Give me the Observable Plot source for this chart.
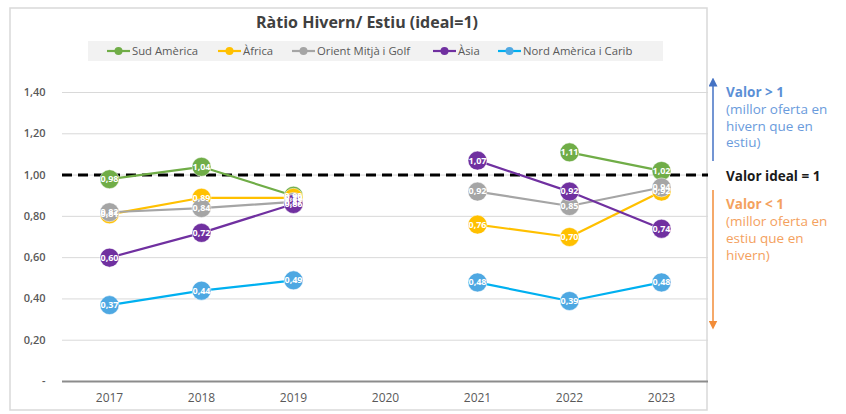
<!DOCTYPE html>
<html>
<head>
<meta charset="utf-8">
<script src="https://cdn.jsdelivr.net/npm/d3@7"></script>
<script src="https://cdn.jsdelivr.net/npm/@observablehq/plot@0.6"></script>
<style>
  html, body { margin: 0; padding: 0; background: #fff; }
  #chart svg { display: block; }
</style>
</head>
<body>
<div id="chart"></div>
<script>
const years = ["2017", "2018", "2019", "2020", "2021", "2022", "2023"];
const seriesNames = ["Sud Amèrica", "Àfrica", "Orient Mitjà i Golf", "Àsia", "Nord Amèrica i Carib"];
const sudAmerica   = [0.98, 1.04, 0.90, null, null, 1.11, 1.02];
const africa       = [0.81, 0.89, 0.89, null, 0.76, 0.70, 0.92];
const orientMitja  = [0.82, 0.84, 0.87, null, 0.92, 0.85, 0.94];
const asia         = [0.60, 0.72, 0.86, null, 1.07, 0.92, 0.74];
const nordAmerica  = [0.37, 0.44, 0.49, null, 0.48, 0.39, 0.48];
const lineColors   = ["#70AD47", "#FFC000", "#A5A5A5", "#7030A0", "#00B0F0"];
const markerColors = ["#70AD47", "#FFC000", "#A5A5A5", "#7030A0", "#4EA8E2"];
const yTicks = [0, 0.2, 0.4, 0.6, 0.8, 1.0, 1.2, 1.4];
const idealValue = 1;

const allValues = [sudAmerica, africa, orientMitja, asia, nordAmerica];
const table = seriesNames.map((name, i) =>
  years.map((year, j) => ({ series: name, idx: i, year, value: allValues[i][j] }))
);
const fmt = v => v === 0 ? "-" : v.toFixed(2).replace(".", ",");

const marks = [
  Plot.ruleY(yTicks.filter(t => t > 0), { stroke: "#D9D9D9", strokeWidth: 1 }),
  Plot.ruleY([0], { stroke: "#8C8C8C", strokeWidth: 1.8 }),
  Plot.axisY({ ticks: yTicks, tickFormat: fmt, tickSize: 0, tickPadding: 17, fill: "#595959", fontWeight: 600, fontSize: 11, label: null }),
  Plot.axisX({ tickSize: 0, tickPadding: 12, fill: "#595959", fontSize: 12, label: null }),
  Plot.ruleY([idealValue], { stroke: "#000", strokeWidth: 3, strokeDasharray: "10,6" })
];
table.forEach((rows, i) => {
  marks.push(Plot.line(rows, { x: "year", y: "value", stroke: lineColors[i], strokeWidth: 2.2 }));
  marks.push(Plot.dot(rows.filter(d => d.value != null), { x: "year", y: "value", r: 9.5, fill: markerColors[i], stroke: "#fff", strokeOpacity: 0.5, strokeWidth: 1 }));
});
table.forEach(rows => {
  marks.push(Plot.text(rows.filter(d => d.value != null), { x: "year", y: "value", text: d => fmt(d.value), fill: "#fff", fontWeight: 700, fontSize: 9 }));
});

const svg = Plot.plot({
  width: 846, height: 414,
  marginLeft: 62, marginRight: 138, marginTop: 92, marginBottom: 33,
  style: { fontFamily: "Open Sans", background: "#fff" },
  x: { type: "point", domain: years, padding: 0.5 },
  y: { domain: [0, 1.4] },
  marks
});

const s = d3.select(svg);
// frame
s.insert("rect", ":first-child").attr("x", 10).attr("y", 8).attr("width", 697).attr("height", 402)
  .attr("fill", "#fff").attr("stroke", "#D9D9D9").attr("stroke-width", 1.5);
// title
s.append("text").attr("x", 367).attr("y", 28).attr("text-anchor", "middle")
  .attr("font-family", "Open Sans").attr("font-weight", 700).attr("font-size", 16).attr("fill", "#404040")
  .text("Ràtio Hivern/ Estiu (ideal=1)");
// legend
s.append("rect").attr("x", 88).attr("y", 41).attr("width", 575).attr("height", 20).attr("fill", "#F2F2F2");
const legendX = [107, 218, 292, 433, 498];
seriesNames.forEach((name, i) => {
  const g = s.append("g");
  g.append("line").attr("x1", legendX[i]).attr("x2", legendX[i] + 23).attr("y1", 51).attr("y2", 51)
    .attr("stroke", lineColors[i]).attr("stroke-width", 2.2);
  g.append("circle").attr("cx", legendX[i] + 11.5).attr("cy", 51).attr("r", 4).attr("fill", markerColors[i]);
  g.append("text").attr("x", legendX[i] + 25).attr("y", 51).attr("dy", "0.35em").attr("text-anchor", "start")
    .attr("font-family", "Open Sans").attr("font-size", 11.3).attr("fill", "#595959").text(name);
});
// annotations
const defs = s.append("defs");
[["arrBlue", "#4472C4"], ["arrOrange", "#F28C38"]].forEach(([id, c]) => {
  defs.append("marker").attr("id", id).attr("viewBox", "0 0 10 10").attr("refX", 5).attr("refY", 5)
    .attr("markerWidth", 6).attr("markerHeight", 6).attr("orient", "auto-start-reverse")
    .append("path").attr("d", "M0,0 L10,5 L0,10 z").attr("fill", c);
});
s.append("line").attr("x1", 713).attr("x2", 713).attr("y1", 161).attr("y2", 82)
  .attr("stroke", "#4472C4").attr("stroke-width", 1.5).attr("marker-end", "url(#arrBlue)");
s.append("line").attr("x1", 713).attr("x2", 713).attr("y1", 190).attr("y2", 325)
  .attr("stroke", "#F28C38").attr("stroke-width", 1.5).attr("marker-end", "url(#arrOrange)");
function txt(y, str, color, weight) {
  s.append("text").attr("x", 726).attr("y", y).attr("dy", "0.35em").attr("text-anchor", "start")
    .attr("font-family", "Open Sans").attr("font-size", 13.5).attr("font-weight", weight)
    .attr("fill", color).text(str);
}
txt(92, "Valor > 1", "#5B8FD6", 700);
txt(109, "(millor oferta en", "#6A9BDC", 400);
txt(126, "hivern que en", "#6A9BDC", 400);
txt(142, "estiu)", "#6A9BDC", 400);
txt(176, "Valor ideal = 1", "#1a1a1a", 700);
txt(204, "Valor < 1", "#F4A15E", 700);
txt(221, "(millor oferta en", "#F4A15E", 400);
txt(238, "estiu que en", "#F4A15E", 400);
txt(255, "hivern)", "#F4A15E", 400);

document.getElementById("chart").appendChild(svg);
</script>
</body>
</html>
